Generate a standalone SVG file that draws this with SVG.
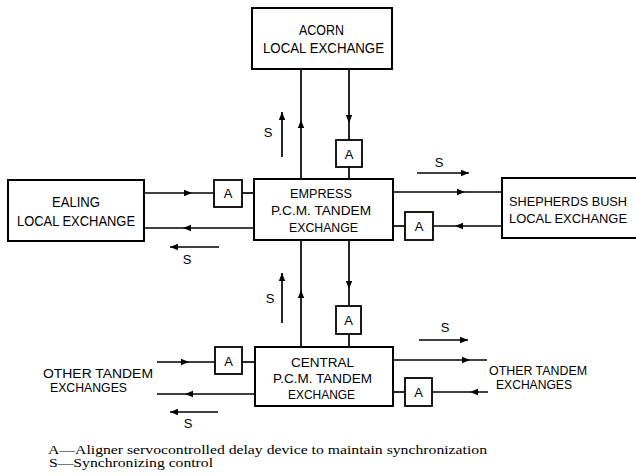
<svg xmlns="http://www.w3.org/2000/svg" xmlns:xlink="http://www.w3.org/1999/xlink" width="636" height="476" viewBox="0 0 636 476">
<style>
.box{fill:#fff;stroke:#000;stroke-width:2}
.ab{fill:#fff;stroke:#000;stroke-width:1.8}
.ln{stroke:#000;stroke-width:1.7;fill:none}
.lbl{font-family:"Liberation Sans",Arial,sans-serif;font-size:14px;fill:#000;text-anchor:middle}
.sm{font-family:"Liberation Sans",Arial,sans-serif;font-size:12.5px;fill:#000;text-anchor:middle}
.a{font-family:"Liberation Sans",Arial,sans-serif;font-size:13px;fill:#000;text-anchor:middle}
.cap{font-family:"Liberation Serif","Times New Roman",serif;font-size:12px;fill:#000}
</style>
<defs>
<path id="ah" d="M0,0 L-8,-3.2 L-8,3.2 Z" fill="#000"/>
<marker id="me" markerWidth="10" markerHeight="8" refX="8" refY="4" orient="auto" markerUnits="userSpaceOnUse">
<path d="M0,0.8 L8,4 L0,7.2 Z" fill="#000"/>
</marker>
</defs>
<rect width="636" height="476" fill="#fff"/>

<g id="connectors">
<line class="ln" x1="301" y1="69" x2="301" y2="179"/>
<use xlink:href="#ah" transform="translate(301,120) rotate(-90)"/>
<line class="ln" x1="349" y1="69" x2="349" y2="140"/>
<use xlink:href="#ah" transform="translate(349,123) rotate(90)"/>
<line class="ln" x1="349" y1="167" x2="349" y2="179"/>
<line class="ln" x1="282" y1="157" x2="282" y2="112" marker-end="url(#me)"/>
<line class="ln" x1="144" y1="193" x2="214" y2="193"/>
<use xlink:href="#ah" transform="translate(192,193)"/>
<line class="ln" x1="242" y1="193" x2="254" y2="193"/>
<line class="ln" x1="254" y1="228" x2="144" y2="228"/>
<use xlink:href="#ah" transform="translate(183,228) rotate(180)"/>
<line class="ln" x1="219" y1="247" x2="170" y2="247" marker-end="url(#me)"/>
<line class="ln" x1="393" y1="192" x2="502" y2="192"/>
<use xlink:href="#ah" transform="translate(465,192)"/>
<line class="ln" x1="502" y1="226" x2="433" y2="226"/>
<use xlink:href="#ah" transform="translate(455,226) rotate(180)"/>
<line class="ln" x1="405" y1="226" x2="393" y2="226"/>
<line class="ln" x1="417" y1="173" x2="469" y2="173" marker-end="url(#me)"/>
<line class="ln" x1="301" y1="240" x2="301" y2="347"/>
<use xlink:href="#ah" transform="translate(301,290) rotate(-90)"/>
<line class="ln" x1="349" y1="240" x2="349" y2="306"/>
<use xlink:href="#ah" transform="translate(349,289) rotate(90)"/>
<line class="ln" x1="349" y1="334" x2="349" y2="347"/>
<line class="ln" x1="282" y1="323" x2="282" y2="273" marker-end="url(#me)"/>
<line class="ln" x1="157" y1="362" x2="215" y2="362"/>
<use xlink:href="#ah" transform="translate(189,362)"/>
<line class="ln" x1="242" y1="362" x2="255" y2="362"/>
<line class="ln" x1="255" y1="394" x2="157" y2="394"/>
<use xlink:href="#ah" transform="translate(185,394) rotate(180)"/>
<line class="ln" x1="218" y1="412" x2="170" y2="412" marker-end="url(#me)"/>
<line class="ln" x1="393" y1="360" x2="487" y2="360"/>
<use xlink:href="#ah" transform="translate(470,360)"/>
<line class="ln" x1="488" y1="392" x2="432" y2="392"/>
<use xlink:href="#ah" transform="translate(470,392) rotate(180)"/>
<line class="ln" x1="405" y1="392" x2="393" y2="392"/>
<line class="ln" x1="419" y1="340" x2="468" y2="340" marker-end="url(#me)"/>
</g>

<g id="s-labels">
<text class="a" x="268" y="137">S</text>
<text class="a" x="187" y="264">S</text>
<text class="a" x="439" y="167">S</text>
<text class="a" x="270" y="303">S</text>
<text class="a" x="188" y="428">S</text>
<text class="a" x="445" y="332">S</text>
</g>

<g id="acorn">
<rect class="box" x="252" y="8" width="140" height="61"/>
<text class="lbl" x="321.5" y="35" textLength="45" lengthAdjust="spacingAndGlyphs">ACORN</text>
<text class="lbl" x="323.5" y="53" textLength="121" lengthAdjust="spacingAndGlyphs">LOCAL EXCHANGE</text>
</g>

<g id="ealing">
<rect class="box" x="8" y="180" width="136" height="61"/>
<text class="lbl" x="76" y="207" textLength="48" lengthAdjust="spacingAndGlyphs">EALING</text>
<text class="lbl" x="76" y="226" textLength="118" lengthAdjust="spacingAndGlyphs">LOCAL EXCHANGE</text>
</g>

<g id="empress">
<rect class="box" x="254" y="179" width="139" height="61"/>
<text class="sm" x="321" y="198" textLength="62" lengthAdjust="spacingAndGlyphs">EMPRESS</text>
<text class="sm" x="321" y="215" textLength="100" lengthAdjust="spacingAndGlyphs">P.C.M. TANDEM</text>
<text class="sm" x="323.5" y="232" textLength="69" lengthAdjust="spacingAndGlyphs">EXCHANGE</text>
</g>

<g id="shepherds">
<path class="box" d="M636,178 L502,178 L502,238 L636,238"/>
<text class="sm" x="568" y="206" textLength="118" lengthAdjust="spacingAndGlyphs">SHEPHERDS BUSH</text>
<text class="sm" x="568" y="223" textLength="118" lengthAdjust="spacingAndGlyphs">LOCAL EXCHANGE</text>
</g>

<g id="central">
<rect class="box" x="255" y="347" width="138" height="59"/>
<text class="sm" x="322.5" y="367" textLength="63" lengthAdjust="spacingAndGlyphs">CENTRAL</text>
<text class="sm" x="322.5" y="383" textLength="99" lengthAdjust="spacingAndGlyphs">P.C.M. TANDEM</text>
<text class="sm" x="321.5" y="399" textLength="67" lengthAdjust="spacingAndGlyphs">EXCHANGE</text>
</g>

<g id="aligner-acorn"><rect class="ab" x="336" y="140" width="26" height="27"/><text class="a" x="349" y="159">A</text></g>
<g id="aligner-ealing"><rect class="ab" x="214" y="180" width="28" height="27"/><text class="a" x="228" y="198">A</text></g>
<g id="aligner-shepherds"><rect class="ab" x="405" y="212" width="28" height="28"/><text class="a" x="419" y="231">A</text></g>
<g id="aligner-central-top"><rect class="ab" x="336" y="306" width="25" height="28"/><text class="a" x="348.5" y="325">A</text></g>
<g id="aligner-central-left"><rect class="ab" x="215" y="347" width="27" height="27"/><text class="a" x="228.5" y="366">A</text></g>
<g id="aligner-central-right"><rect class="ab" x="405" y="378" width="27" height="28"/><text class="a" x="418.5" y="397">A</text></g>

<g id="other-left">
<text class="sm" x="98" y="378" textLength="110" lengthAdjust="spacingAndGlyphs" font-size="12">OTHER TANDEM</text>
<text class="sm" x="88.5" y="392" textLength="77" lengthAdjust="spacingAndGlyphs" font-size="12">EXCHANGES</text>
</g>
<g id="other-right">
<text class="sm" x="538" y="375" textLength="98" lengthAdjust="spacingAndGlyphs" font-size="12">OTHER TANDEM</text>
<text class="sm" x="534" y="389" textLength="76" lengthAdjust="spacingAndGlyphs" font-size="12">EXCHANGES</text>
</g>

<g id="caption">
<text class="cap" x="48" y="453.5" textLength="439" lengthAdjust="spacingAndGlyphs">A—Aligner servocontrolled delay device to maintain synchronization</text>
<text class="cap" x="49" y="467" textLength="164" lengthAdjust="spacingAndGlyphs">S—Synchronizing control</text>
</g>
</svg>
